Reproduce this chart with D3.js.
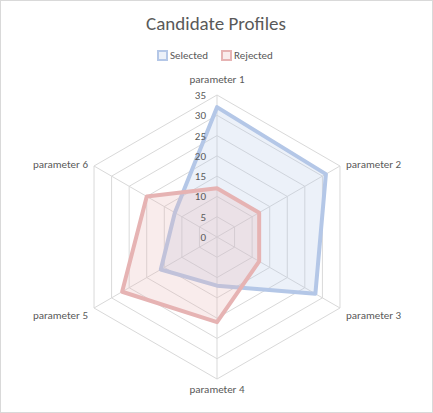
<!DOCTYPE html>
<html><head><meta charset="utf-8">
<script src="https://cdn.jsdelivr.net/npm/d3@7"></script>
<style>body{margin:0;background:#fff;font-family:Calibri,Carlito,"Liberation Sans",sans-serif}</style>
</head><body><svg id="c" width="433" height="413"></svg>
<script>
let axes = ['parameter 1','parameter 2','parameter 3','parameter 4','parameter 5','parameter 6']
let selected = [32, 31, 28, 12, 16, 12]
let rejected = [12, 12, 12, 21, 27, 20]
let ticks = [0, 5, 10, 15, 20, 25, 30, 35]

let svg = d3.select('#c')
let cx = 217, cy = 237
let r = d3.scaleLinear().domain([0, 35]).range([0, 142])
let ang = (i) => i * Math.PI / 3 - Math.PI / 2
let pt = (i, v) => [cx + r(v) * Math.cos(ang(i)), cy + r(v) * Math.sin(ang(i))]

svg.append('rect').attr('x',0.5).attr('y',0.5).attr('width',432).attr('height',412)
   .attr('fill','#fff').attr('stroke','#d9d9d9')

svg.append('text').attr('x',216).attr('y',30).attr('text-anchor','middle')
   .attr('font-size',19).attr('fill','#595959').text('Candidate Profiles')

// grid
ticks.forEach((t) => {
    if (t === 0) return
    svg.append('polygon').attr('points', axes.map((a, i) => pt(i, t).join(',')).join(' '))
       .attr('fill','none').attr('stroke','#d9d9d9')
})
let labelDy = [0, 6, -1, -6, -1, 6]
axes.forEach((a, i) => {
    let p = pt(i, 35)
    svg.append('line').attr('x1',cx).attr('y1',cy).attr('x2',p[0]).attr('y2',p[1]).attr('stroke','#d9d9d9')
    let q = pt(i, 35 + 4)
    let mid = Math.abs(q[0]-cx) < 5
    svg.append('text').attr('x',q[0]).attr('y',q[1] + 4 + labelDy[i])
       .attr('text-anchor', mid ? 'middle' : (q[0] > cx ? 'start' : 'end'))
       .attr('dx', mid ? 0 : (q[0] > cx ? -8 : 8))
       .attr('font-size',11).attr('fill','#595959').text(a)
})

let line = d3.line().curve(d3.curveLinearClosed)
let series = [
    {name:'Selected', data:selected, stroke:'#b4c7e7', fill:'rgba(180,199,231,0.25)'},
    {name:'Rejected', data:rejected, stroke:'#e6b3b3', fill:'rgba(230,179,179,0.25)'}
]
series.forEach((s) => {
    svg.append('path').attr('d', line(s.data.map((v, i) => pt(i, v))))
       .attr('fill', s.fill).attr('stroke', s.stroke).attr('stroke-width',4).attr('stroke-linejoin','round')
})

ticks.forEach((t) => {
    svg.append('text').attr('x',206).attr('y',cy - r(t) + 4).attr('text-anchor','end')
       .attr('font-size',11).attr('fill','#595959').text(t)
})

// legend
let lx = [158, 222]
series.forEach((s, k) => {
    svg.append('rect').attr('x',lx[k]).attr('y',51).attr('width',9).attr('height',9)
       .attr('fill',s.fill).attr('stroke',s.stroke).attr('stroke-width',2)
    svg.append('text').attr('x',lx[k] + 12).attr('y',59).attr('font-size',11)
       .attr('fill','#595959').text(s.name)
})
</script></body></html>
